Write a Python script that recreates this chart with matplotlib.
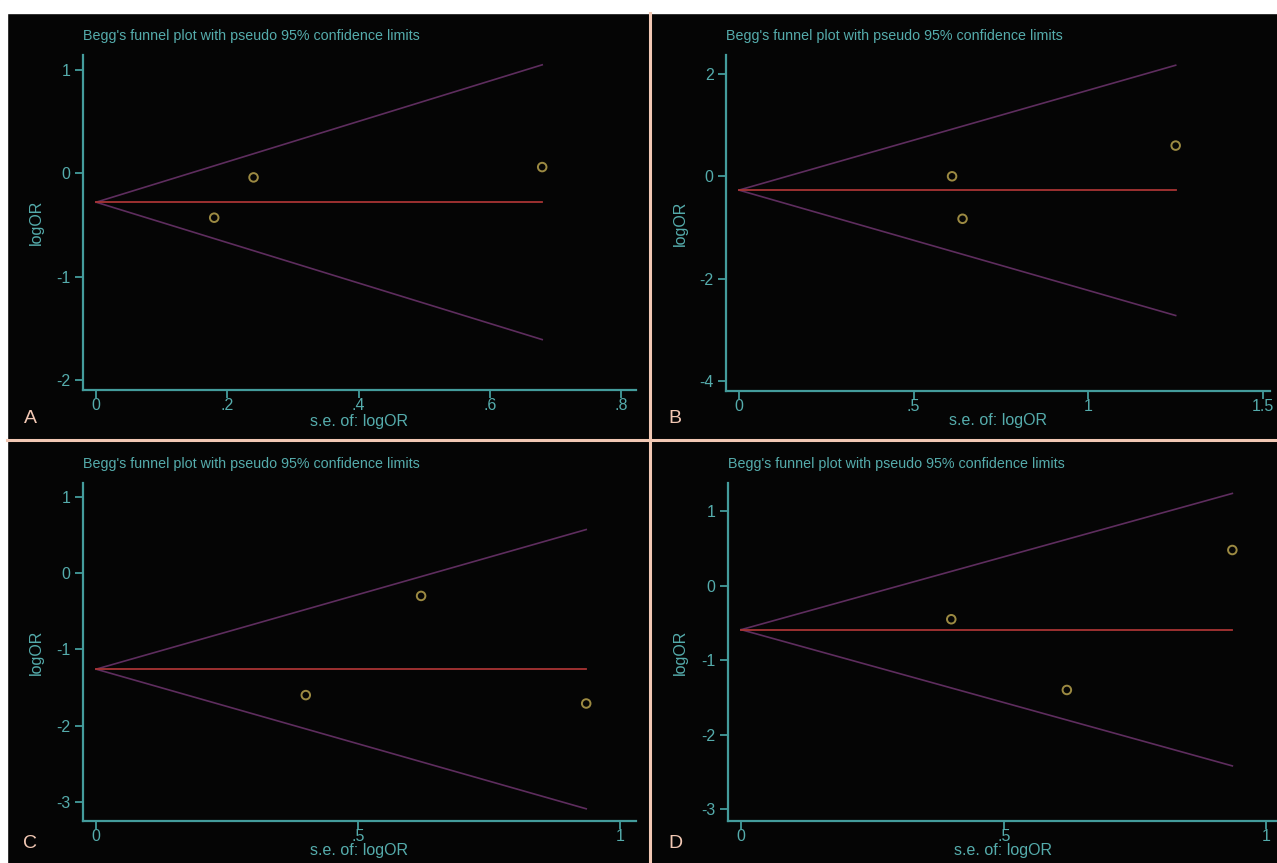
import matplotlib
matplotlib.use("Agg")
import matplotlib.pyplot as plt
from matplotlib.lines import Line2D
from matplotlib.patches import Rectangle

plt.rcParams['font.family'] = ['Liberation Sans', 'DejaVu Sans']

# panel data
panels = ["A", "B", "C", "D"]

se_A = [0.18, 0.24, 0.68]
logor_A = [-0.43, -0.04, 0.06]
se_B = [0.61, 0.64, 1.25]
logor_B = [0.0, -0.83, 0.6]
se_C = [0.40, 0.62, 0.935]
logor_C = [-1.60, -0.30, -1.71]
se_D = [0.40, 0.62, 0.935]
logor_D = [-0.45, -1.40, 0.48]

# funnel: pooled estimate, max s.e., upper and lower limit at max s.e.
pooled = [-0.28, -0.27, -1.26, -0.59]
max_se = [0.68, 1.25, 0.935, 0.935]
upper_end = [1.05, 2.17, 0.57, 1.24]
lower_end = [-1.61, -2.72, -3.09, -2.42]

xticks = [[0, 0.2, 0.4, 0.6, 0.8], [0, 0.5, 1, 1.5], [0, 0.5, 1], [0, 0.5, 1]]
xticklabels = [["0", ".2", ".4", ".6", ".8"], ["0", ".5", "1", "1.5"], ["0", ".5", "1"], ["0", ".5", "1"]]
yticks = [[-2, -1, 0, 1], [-4, -2, 0, 2], [-3, -2, -1, 0, 1], [-3, -2, -1, 0, 1]]

xs = [se_A, se_B, se_C, se_D]
ys = [logor_A, logor_B, logor_C, logor_D]

W, H = 1277, 863
teal = '#449c9c'
teal_txt = '#55acac'
pink = '#f2c8b4'

# layout in pixels: left, right, top, bottom of the plot region, and axis limits
boxes = [(83, 636, 55, 390), (726, 1270, 55, 391), (83, 636, 483, 821), (728, 1277, 483, 821)]
xlims = [(-0.02, 0.823), (-0.037, 1.52), (-0.025, 1.03), (-0.025, 1.02)]
ylims = [(-2.098, 1.145), (-4.195, 2.37), (-3.25, 1.18), (-3.16, 1.38)]
letter_pos = [(30, 418), (675, 418), (30, 843), (675, 843)]
ylabel_x = [36, 680, 36, 680]
xlabel_y = [421, 421, 850, 850]

fig = plt.figure(figsize=(W / 100, H / 100), dpi=100)
fig.patch.set_facecolor('#050505')

# white strips at top and left, separators
fig.add_artist(Rectangle((0, 1 - 13 / H), 1, 13 / H, transform=fig.transFigure, color='white', zorder=0))
fig.add_artist(Rectangle((0, 0), 7 / W, 1, transform=fig.transFigure, color='white', zorder=0))
fig.add_artist(Line2D([650 / W, 650 / W], [0, 1 - 13 / H], transform=fig.transFigure, color=pink, lw=2.2))
fig.add_artist(Line2D([7 / W, 1], [1 - 440 / H, 1 - 440 / H], transform=fig.transFigure, color=pink, lw=2.2))

for i in range(4):
    l, r, t, b = boxes[i]
    ax = fig.add_axes([l / W, 1 - b / H, (r - l) / W, (b - t) / H])
    ax.set_facecolor('none')

    # funnel limits and pooled line
    ax.plot([0, max_se[i]], [pooled[i], upper_end[i]], color='#5e2d5e', lw=1.2)
    ax.plot([0, max_se[i]], [pooled[i], lower_end[i]], color='#5e2d5e', lw=1.2)
    ax.plot([0, max_se[i]], [pooled[i], pooled[i]], color='#a83434', lw=1.3)
    ax.scatter(xs[i], ys[i], s=38, facecolors='none', edgecolors='#9c8a42', linewidths=1.4, zorder=3)

    ax.set_xlim(*xlims[i])
    ax.set_ylim(*ylims[i])
    ax.set_xticks(xticks[i])
    ax.set_xticklabels(xticklabels[i])
    ax.set_yticks(yticks[i])
    ax.set_yticklabels([str(v) for v in yticks[i]])

    for s in ['top', 'right']:
        ax.spines[s].set_visible(False)
    for s in ['left', 'bottom']:
        ax.spines[s].set_color(teal)
        ax.spines[s].set_linewidth(1.6)
    ax.tick_params(colors=teal, labelcolor=teal_txt, labelsize=11.5, length=6, width=1.3)
    ax.tick_params(axis='x', pad=0)
    ax.tick_params(axis='y', pad=3)

    ax.set_xlabel("s.e. of: logOR", color=teal_txt, fontsize=11.5)
    ax.xaxis.set_label_coords(0.5, -(xlabel_y[i] - b) / (b - t), transform=ax.transAxes)
    ax.xaxis.label.set_va('center')
    ax.set_ylabel("logOR", color=teal_txt, fontsize=11.5)
    ax.yaxis.set_label_coords((ylabel_x[i] - l) / (r - l), 0.5, transform=ax.transAxes)
    ax.yaxis.label.set_va('center')
    ax.set_title("Begg's funnel plot with pseudo 95% confidence limits", color=teal_txt,
                 fontsize=10.3, loc='left', x=0, pad=11)

    lx, ly = letter_pos[i]
    fig.text(lx / W, 1 - ly / H, panels[i], color=pink, fontsize=14, ha='center', va='center')

fig.savefig("out.png", dpi=100, facecolor=fig.get_facecolor())
